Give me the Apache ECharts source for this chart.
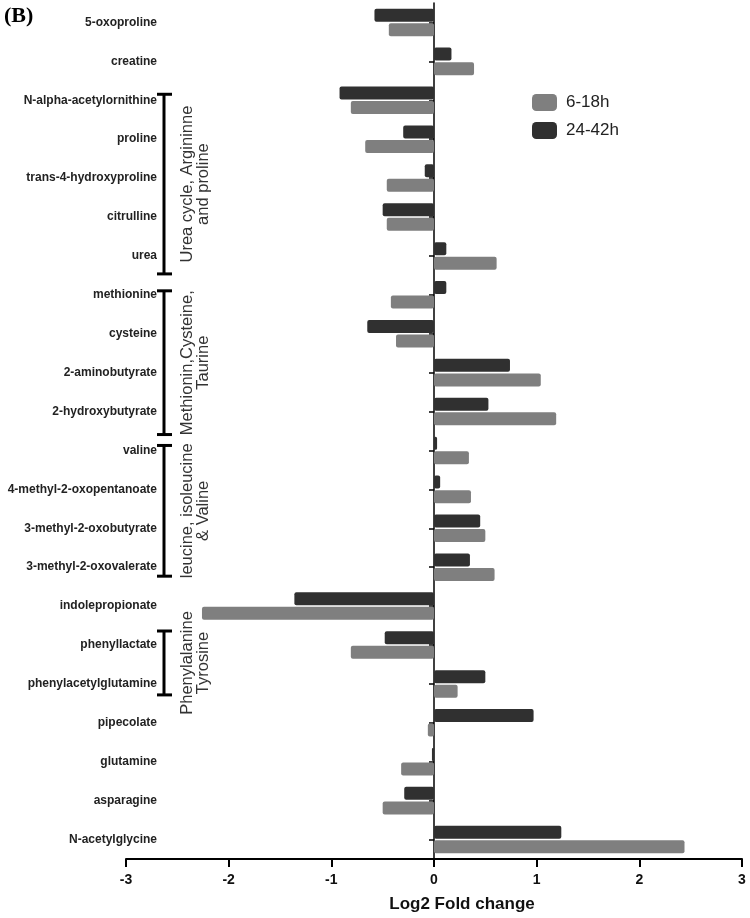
<!DOCTYPE html>
<html>
<head>
<meta charset="utf-8">
<script src="https://cdn.jsdelivr.net/npm/echarts@6/dist/echarts.min.js"></script>
<style>
html,body{margin:0;padding:0;background:#fff;}
#chart{width:750px;height:918px;}
</style>
</head>
<body>
<div id="chart"></div>
<script>
// ---- data ----
const categories = ['5-oxoproline','creatine','N-alpha-acetylornithine','proline','trans-4-hydroxyproline','citrulline','urea','methionine','cysteine','2-aminobutyrate','2-hydroxybutyrate','valine','4-methyl-2-oxopentanoate','3-methyl-2-oxobutyrate','3-methyl-2-oxovalerate','indolepropionate','phenyllactate','phenylacetylglutamine','pipecolate','glutamine','asparagine','N-acetylglycine'];
const values_24_42h = [-0.58,0.17,-0.92,-0.30,-0.09,-0.50,0.12,0.12,-0.65,0.74,0.53,0.03,0.06,0.45,0.35,-1.36,-0.48,0.50,0.97,-0.02,-0.29,1.24];
const values_6_18h  = [-0.44,0.39,-0.81,-0.67,-0.46,-0.46,0.61,-0.42,-0.37,1.04,1.19,0.34,0.36,0.50,0.59,-2.26,-0.81,0.23,-0.06,-0.32,-0.50,2.44];
const seriesNames = ['6-18h','24-42h'];
const xTicks = [-3,-2,-1,0,1,2,3];
const groupNames = ['Urea cycle, Argininne\nand proline','Methionin,Cysteine,\nTaurine','leucine, isoleucine\n& Valine','Phenylalanine\nTyrosine'];
const groupFirst = ['N-alpha-acetylornithine','methionine','valine','phenyllactate'];
const groupLast = ['urea','2-hydroxybutyrate','3-methyl-2-oxovalerate','phenylacetylglutamine'];
const panelLabel = '(B)';
const xAxisTitle = 'Log2 Fold change';

// ---- layout / style ----
const bracketExt = [[6,18],[4,23],[5,9],[14,11]];
const FONT = '"Liberation Sans", Arial, sans-serif';
const DARK = '#303030', GRAY = '#7f7f7f';

const chart = echarts.init(document.getElementById('chart'), null, {renderer:'canvas'});
chart.setOption({
  animation:false,
  backgroundColor:'#fff',
  grid:{left:126,right:8,top:3,bottom:59,containLabel:false},
  legend:{
    data:seriesNames, orient:'vertical', left:532, top:94, padding:0,
    itemWidth:25, itemHeight:17, itemGap:11, icon:'roundRect',
    textStyle:{fontFamily:FONT,fontSize:17,color:'#222',padding:[0,0,0,4]}
  },
  xAxis:{
    type:'value', min:xTicks[0], max:xTicks[xTicks.length-1], interval:1,
    splitLine:{show:false},
    axisLine:{show:true,onZero:false,lineStyle:{color:'#000',width:2}},
    axisTick:{show:true,length:8,lineStyle:{color:'#000',width:2}},
    axisLabel:{fontFamily:FONT,fontSize:14,fontWeight:'bold',color:'#111',margin:14},
    name:xAxisTitle, nameLocation:'middle', nameGap:37,
    nameTextStyle:{fontFamily:FONT,fontSize:17,fontWeight:'bold',color:'#111',padding:[0,0,0,56]}
  },
  yAxis:[{
    type:'category', data:categories, inverse:true,
    axisLine:{show:true,onZero:true,lineStyle:{color:'#000',width:1.5}},
    axisTick:{show:true,alignWithLabel:true,length:5,lineStyle:{color:'#000',width:1.5}},
    axisLabel:{show:false}
  },{
    type:'category', data:categories, inverse:true, position:'left',
    axisLine:{show:false,onZero:false}, axisTick:{show:false},
    axisLabel:{show:true,margin:-31,fontFamily:FONT,fontSize:12,fontWeight:'bold',color:'#222'}
  }],
  series:[{
    name:seriesNames[1], type:'bar', yAxisIndex:0, data:values_24_42h,
    barWidth:13, barGap:'12%',
    itemStyle:{color:DARK,borderRadius:2}
  },{
    name:seriesNames[0], type:'bar', yAxisIndex:0, data:values_6_18h,
    barWidth:13, barGap:'12%',
    itemStyle:{color:GRAY,borderRadius:2}
  }]
});

// group brackets and labels, positioned from the category axis
const graphics = [{
  type:'text', left:4, top:5,
  style:{text:panelLabel,font:'bold 22px "Liberation Serif", "Times New Roman", serif',fill:'#000'}
}];
const BX = 164;
for (let i=0;i<groupNames.length;i++){
  const y1 = chart.convertToPixel({yAxisIndex:0}, groupFirst[i]) - bracketExt[i][0];
  const y2 = chart.convertToPixel({yAxisIndex:0}, groupLast[i]) + bracketExt[i][1];
  const ls = {stroke:'#000',lineWidth:3};
  graphics.push({type:'line',shape:{x1:BX,y1:y1,x2:BX,y2:y2},style:ls});
  graphics.push({type:'line',shape:{x1:BX-7,y1:y1,x2:BX+8,y2:y1},style:ls});
  graphics.push({type:'line',shape:{x1:BX-7,y1:y2,x2:BX+8,y2:y2},style:ls});
  graphics.push({
    type:'text', x:195, y:(y1+y2)/2, rotation:Math.PI/2,
    style:{text:groupNames[i],fontFamily:FONT,fontSize:16.5,lineHeight:16,fill:'#333',align:'center',verticalAlign:'middle'}
  });
}
chart.setOption({graphic:graphics});
</script>
</body>
</html>
